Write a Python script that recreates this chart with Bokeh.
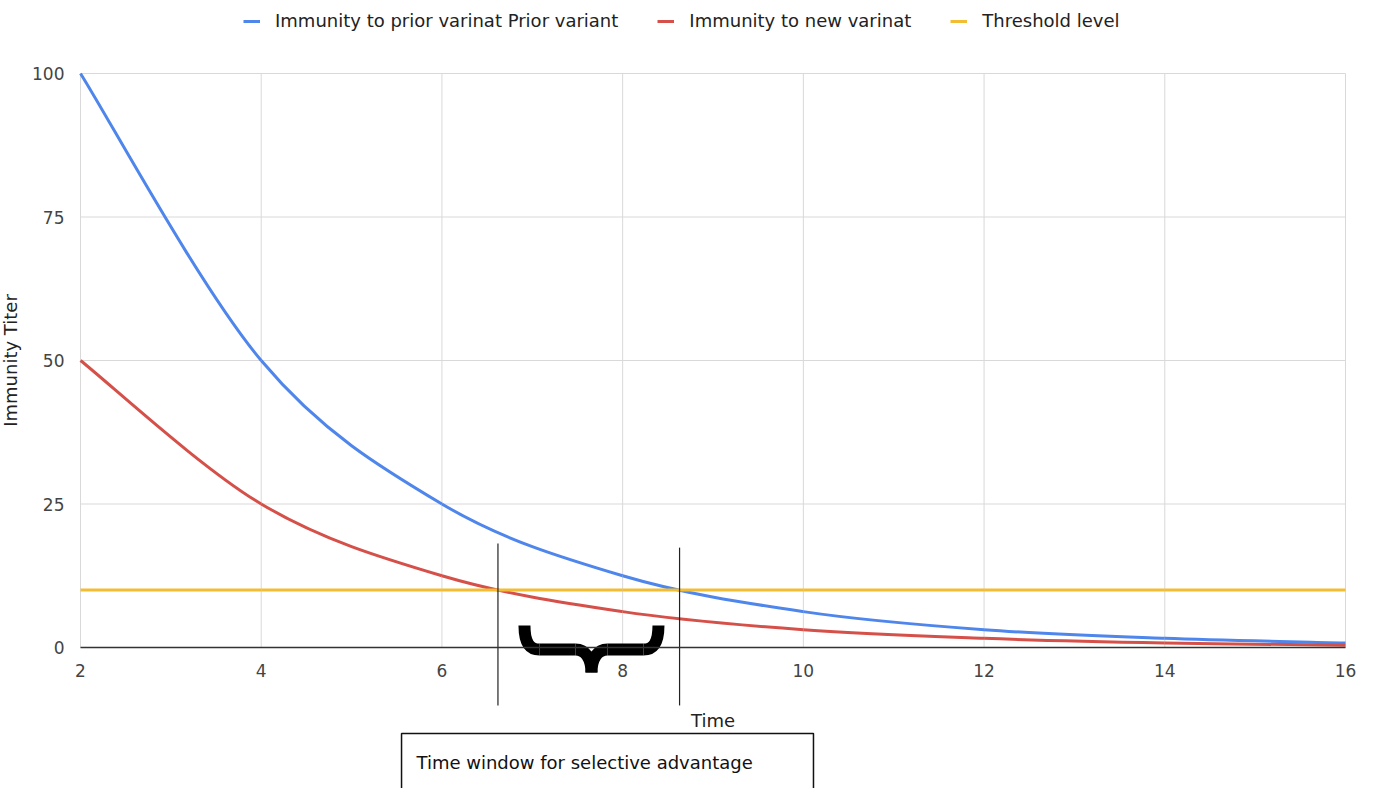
from bokeh.plotting import figure
from bokeh.models import FixedTicker, Range1d
from bokeh.core.properties import value
from bokeh.embed import file_html
from bokeh.resources import INLINE

# ---- data ----
time = [2, 4, 6, 8, 10, 12, 14, 16]
prior_immunity = [100, 50, 25, 12.5, 6.25, 3.1, 1.6, 0.8]
new_immunity = [50, 25, 12.5, 6.25, 3.1, 1.6, 0.8, 0.4]
threshold = [10, 10, 10, 10, 10, 10, 10, 10]
x_ticks = [2, 4, 6, 8, 10, 12, 14, 16]
y_ticks = [0, 25, 50, 75, 100]
series_names = ["Immunity to prior varinat Prior variant", "Immunity to new varinat", "Threshold level"]
series_colors = ["#4f86ec", "#d6504a", "#f2bd32"]

# annotation values
window_start = 6.62
window_end = 8.63
window_line_top = [18.1, 17.4]
window_line_bottom = -10.1
box_text = "Time window for selective advantage"

FONT = "DejaVu Sans"
W, H = 1370, 788


def smooth_segments(xs, ys):
    n = len(xs)
    out = {k: [] for k in ("x0", "y0", "x1", "y1", "cx0", "cy0", "cx1", "cy1")}
    for i in range(n - 1):
        xm, ym = (xs[i - 1], ys[i - 1]) if i > 0 else (xs[i], ys[i])
        xp, yp = (xs[i + 2], ys[i + 2]) if i + 2 < n else (xs[i + 1], ys[i + 1])
        out["x0"].append(xs[i]); out["y0"].append(ys[i])
        out["x1"].append(xs[i + 1]); out["y1"].append(ys[i + 1])
        out["cx0"].append(xs[i] + (xs[i + 1] - xm) / 6)
        out["cy0"].append(ys[i] + (ys[i + 1] - ym) / 6)
        out["cx1"].append(xs[i + 1] - (xp - xs[i]) / 6)
        out["cy1"].append(ys[i + 1] - (yp - ys[i]) / 6)
    return out


# pixel scale of the reference chart
dx = 14 / 1265   # x units per pixel
dy = 100 / 574   # y units per pixel

p = figure(width=W, height=H,
           x_range=Range1d(2 - 80 * dx, 2 + (W - 80) * dx),
           y_range=Range1d(-(H - 647) * dy, 647 * dy),
           output_backend="svg", toolbar_location=None,
           min_border_left=0, min_border_right=0,
           min_border_top=0, min_border_bottom=0)
p.outline_line_color = None
p.background_fill_color = "white"

# grid lines limited to the data area, drawn from the tick lists
p.xgrid.grid_line_color = None
p.ygrid.grid_line_color = None
xmin, xmax = x_ticks[0], x_ticks[-1]
ymin, ymax = y_ticks[0], y_ticks[-1]
p.segment(x0=x_ticks, y0=[ymin] * len(x_ticks), x1=x_ticks, y1=[ymax] * len(x_ticks),
          line_color="#d9d9d9", line_width=1)
p.segment(x0=[xmin] * len(y_ticks), y0=y_ticks, x1=[xmax] * len(y_ticks), y1=y_ticks,
          line_color="#d9d9d9", line_width=1)

# x axis at y = 0
xa = p.xaxis[0]
xa.fixed_location = 0
xa.bounds = (xmin, xmax)
xa.ticker = FixedTicker(ticks=x_ticks)
xa.axis_line_color = "#333333"
xa.axis_line_width = 1.5
xa.major_tick_line_color = None
xa.minor_tick_line_color = None
xa.major_label_text_font = FONT
xa.major_label_text_font_size = "17px"
xa.major_label_text_color = "#444444"
xa.major_label_standoff = 10
xa.axis_label = "Time"
xa.axis_label_text_font = FONT
xa.axis_label_text_font_size = "18px"
xa.axis_label_text_font_style = "normal"
xa.axis_label_text_color = "#222222"
xa.axis_label_standoff = 30

# y axis at x = 2
ya = p.yaxis[0]
ya.fixed_location = xmin
ya.ticker = FixedTicker(ticks=y_ticks)
ya.bounds = (ymin, ymax)
ya.axis_line_color = None
ya.major_tick_line_color = None
ya.minor_tick_line_color = None
ya.major_label_text_font = FONT
ya.major_label_text_font_size = "17px"
ya.major_label_text_color = "#444444"
ya.major_label_standoff = 10
ya.axis_label = "Immunity Titer"
ya.axis_label_text_font = FONT
ya.axis_label_text_font_size = "18px"
ya.axis_label_text_font_style = "normal"
ya.axis_label_text_color = "#222222"
ya.axis_label_standoff = 8

# series
for ys, name, color in zip([prior_immunity, new_immunity, threshold], series_names, series_colors):
    segs = smooth_segments(time, ys)
    p.bezier(x0="x0", y0="y0", x1="x1", y1="y1", cx0="cx0", cy0="cy0", cx1="cx1", cy1="cy1",
             source=segs, line_color=color, line_width=3, legend_label=name)

# time-window lines
p.segment(x0=[window_start, window_end], y0=window_line_top,
          x1=[window_start, window_end], y1=[window_line_bottom, window_line_bottom],
          line_color="#222222", line_width=1.2)

# brace (pixel offsets converted to data units)
bcx = (window_start + window_end) / 2 + 0.03
bcy = -0.35
def bx(o):
    return bcx + o * dx
def by(o):
    return bcy - o * dy
brace = dict(x0=[], y0=[], x1=[], y1=[], cx0=[], cy0=[], cx1=[], cy1=[])
for s in (-1, 1):
    pieces = [((-67, -24), (-52, 0), (-67, -7), (-62, 0)),
              ((-52, 0), (-16, 0), (-40, 0), (-28, 0)),
              ((-16, 0), (0, 23), (-6, 0), (0, 9))]
    for (a, b, c0, c1) in pieces:
        brace["x0"].append(bx(s * a[0])); brace["y0"].append(by(a[1]))
        brace["x1"].append(bx(s * b[0])); brace["y1"].append(by(b[1]))
        brace["cx0"].append(bx(s * c0[0])); brace["cy0"].append(by(c0[1]))
        brace["cx1"].append(bx(s * c1[0])); brace["cy1"].append(by(c1[1]))
p.bezier(x0="x0", y0="y0", x1="x1", y1="y1", cx0="cx0", cy0="cy0", cx1="cx1", cy1="cy1",
         source=brace, line_color="black", line_width=12, line_cap="butt")

# text box
p.quad(left=[5.553], right=[10.112], top=[-14.98], bottom=[-40],
       fill_color="white", line_color="#111111", line_width=1.5)
p.text(x=[5.718], y=[-20.03], text=[box_text], text_font=value(FONT),
       text_font_size="18px", text_baseline="middle", text_color="#111111")

# legend
lg = p.legend[0]
lg.orientation = "horizontal"
lg.location = (243, H - 31)
lg.label_text_font = FONT
lg.label_text_font_size = "18px"
lg.label_text_color = "#222222"
lg.glyph_width = 17
lg.glyph_height = 20
lg.label_height = 20
lg.label_standoff = 15
lg.spacing = 39
lg.padding = 0
lg.margin = 0
lg.border_line_color = None
lg.background_fill_alpha = 0

open("out.html", "w").write(file_html(p, INLINE))
